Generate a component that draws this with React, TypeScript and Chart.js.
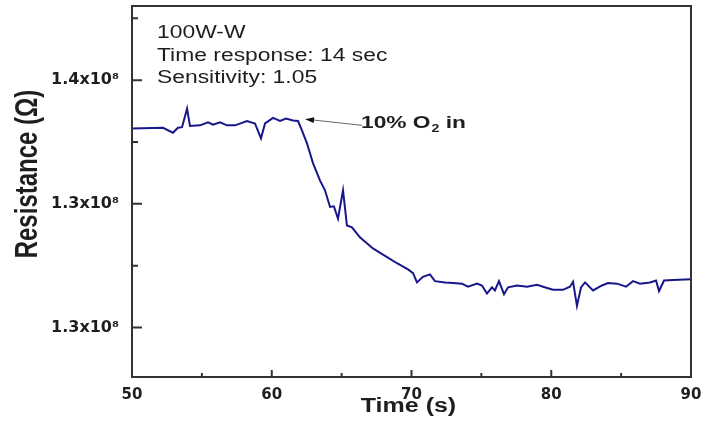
import React, { useEffect, useRef } from "react";
import { Chart, registerables } from "chart.js";

Chart.register(...registerables);

// Time (s)
const times = [50, 52.22, 52.93, 53.29, 53.58, 53.94, 54.15, 54.87, 55.44, 55.8, 56.3, 56.8, 57.37, 58.23, 58.8, 59.23, 59.52, 60.09, 60.59, 61.02, 61.52, 61.88, 62.16, 62.52, 62.95, 63.45, 63.81, 64.17, 64.45, 64.74, 65.1, 65.38, 65.74, 66.31, 67.24, 68.25, 68.96, 69.75, 70.11, 70.39, 70.82, 71.32, 71.68, 72.4, 72.97, 73.61, 74.04, 74.69, 75.04, 75.4, 75.76, 75.97, 76.26, 76.62, 76.91, 77.55, 78.27, 78.98, 79.7, 80.13, 80.84, 81.34, 81.56, 81.84, 82.13, 82.42, 82.99, 83.63, 84.06, 84.71, 85.35, 85.85, 86.35, 87.07, 87.5, 87.71, 88.07, 88.71, 90];
// Resistance (x10^8 ohm)
const resistance = [1.3522, 1.3523, 1.3515, 1.3523, 1.3524, 1.3554, 1.3526, 1.3527, 1.3532, 1.3528, 1.3532, 1.3527, 1.3527, 1.3534, 1.353, 1.3506, 1.353, 1.3539, 1.3534, 1.3538, 1.3535, 1.3534, 1.3519, 1.3498, 1.3466, 1.3438, 1.3422, 1.3395, 1.3396, 1.3376, 1.3422, 1.3365, 1.3362, 1.3346, 1.3328, 1.3314, 1.3304, 1.3294, 1.3288, 1.3273, 1.3282, 1.3286, 1.3275, 1.3273, 1.3272, 1.3271, 1.3266, 1.3271, 1.3268, 1.3255, 1.3265, 1.326, 1.3275, 1.3254, 1.3265, 1.3268, 1.3266, 1.3269, 1.3264, 1.3261, 1.3261, 1.3266, 1.3274, 1.3235, 1.3265, 1.3273, 1.326, 1.3268, 1.3272, 1.3271, 1.3266, 1.3275, 1.3271, 1.3273, 1.3276, 1.3259, 1.3276, 1.3277, 1.3278];

const xMajorTicks = [50, 60, 70, 80, 90];
const xMinorTicks = [55, 65, 75, 85];
const yMajorTicks = [1.32, 1.34, 1.36];
const yMinorTicks = [1.33, 1.35, 1.37];
const yTickLabels = ["1.3x10\u2078", "1.3x10\u2078", "1.4x10\u2078"];
const xRange = [50, 90];
const yRange = [1.312, 1.372];

const infoLines = ["100W-W", "Time response: 14 sec", "Sensitivity: 1.05"];
const arrowTip = { x: 62.38, y: 1.3537 };
const arrowTail = { x: 66.46, y: 1.3527 };
const xTitle = "Time (s)";
const yTitle = "Resistance (\u03A9)";

const LINE_COLOR = "#17178a";
const AXIS_COLOR = "#333333";
const TEXT_COLOR = "#1e1e1e";

function stretchedText(ctx: CanvasRenderingContext2D, text: string, x: number, y: number, sx: number, align: CanvasTextAlign) {
  ctx.save();
  ctx.translate(x, y);
  ctx.scale(sx, 1);
  ctx.textAlign = align;
  ctx.fillText(text, 0, 0);
  ctx.restore();
}

const decorPlugin = {
  id: "decor",
  afterDraw(chart: any) {
    const ctx: CanvasRenderingContext2D = chart.ctx;
    const { left, right, top, bottom } = chart.chartArea;
    const xs = chart.scales.x;
    const ys = chart.scales.y;
    ctx.save();
    // frame
    ctx.strokeStyle = AXIS_COLOR;
    ctx.lineWidth = 2;
    ctx.strokeRect(left, top, right - left, bottom - top);
    // inward ticks
    ctx.beginPath();
    xMajorTicks.forEach((v) => {
      const px = xs.getPixelForValue(v);
      ctx.moveTo(px, bottom);
      ctx.lineTo(px, bottom - 7);
    });
    xMinorTicks.forEach((v) => {
      const px = xs.getPixelForValue(v);
      ctx.moveTo(px, bottom);
      ctx.lineTo(px, bottom - 4);
    });
    yMajorTicks.forEach((v) => {
      const py = ys.getPixelForValue(v);
      ctx.moveTo(left, py);
      ctx.lineTo(left + 10, py);
    });
    yMinorTicks.forEach((v) => {
      const py = ys.getPixelForValue(v);
      ctx.moveTo(left, py);
      ctx.lineTo(left + 6, py);
    });
    ctx.stroke();

    // info text
    ctx.fillStyle = TEXT_COLOR;
    ctx.font = "18px 'Liberation Sans', Arial, sans-serif";
    ctx.textBaseline = "alphabetic";
    infoLines.forEach((t, i) => {
      stretchedText(ctx, t, left + 25, top + 32 + i * 22.5, 1.27, "left");
    });

    // arrow annotation
    const tipX = xs.getPixelForValue(arrowTip.x);
    const tipY = ys.getPixelForValue(arrowTip.y);
    const tailX = xs.getPixelForValue(arrowTail.x);
    const tailY = ys.getPixelForValue(arrowTail.y);
    ctx.strokeStyle = "#666666";
    ctx.lineWidth = 1;
    ctx.beginPath();
    ctx.moveTo(tailX, tailY);
    ctx.lineTo(tipX + 6, tipY + 0.6);
    ctx.stroke();
    const ang = Math.atan2(tipY - tailY, tipX - tailX);
    ctx.fillStyle = "#111111";
    ctx.beginPath();
    ctx.moveTo(tipX, tipY);
    ctx.lineTo(tipX - 9 * Math.cos(ang) + 3 * Math.sin(ang), tipY - 9 * Math.sin(ang) - 3 * Math.cos(ang));
    ctx.lineTo(tipX - 9 * Math.cos(ang) - 3 * Math.sin(ang), tipY - 9 * Math.sin(ang) + 3 * Math.cos(ang));
    ctx.closePath();
    ctx.fill();

    // "10% O2 in"
    ctx.fillStyle = TEXT_COLOR;
    const sx = 1.42;
    let cx = tailX - 1;
    const base = tailY + 3;
    ctx.font = "bold 16px 'Liberation Sans', Arial, sans-serif";
    stretchedText(ctx, "10% O", cx, base, sx, "left");
    cx += ctx.measureText("10% O").width * sx + 1;
    ctx.font = "bold 10px 'Liberation Sans', Arial, sans-serif";
    stretchedText(ctx, "2", cx, base + 4, sx, "left");
    cx += ctx.measureText("2").width * sx;
    ctx.font = "bold 16px 'Liberation Sans', Arial, sans-serif";
    stretchedText(ctx, " in", cx, base, sx, "left");

    // axis titles
    ctx.font = "bold 20px 'Liberation Sans', Arial, sans-serif";
    stretchedText(ctx, xTitle, (left + right) / 2 - 3, 412, 1.25, "center");

    ctx.save();
    ctx.font = "bold 24px 'Liberation Sans', Arial, sans-serif";
    ctx.translate(37, 174);
    ctx.scale(1.27, 1);
    ctx.rotate(-Math.PI / 2);
    ctx.textAlign = "center";
    ctx.textBaseline = "alphabetic";
    ctx.fillText(yTitle, 0, 0);
    ctx.restore();

    ctx.restore();
  },
};

export default function App() {
  const canvasRef = useRef<HTMLCanvasElement | null>(null);

  useEffect(() => {
    document.body.style.margin = "0";
    const canvas = canvasRef.current;
    if (!canvas) return;
    const chart = new Chart(canvas, {
      type: "line",
      data: {
        datasets: [
          {
            data: times.map((t, i) => ({ x: t, y: resistance[i] })),
            borderColor: LINE_COLOR,
            borderWidth: 2,
            pointRadius: 0,
            tension: 0,
            fill: false,
          },
        ],
      },
      options: {
        animation: false,
        responsive: false,
        devicePixelRatio: 1,
        layout: { padding: { top: 6, right: 15, left: 0, bottom: 0 } },
        plugins: { legend: { display: false }, tooltip: { enabled: false } },
        scales: {
          x: {
            type: "linear",
            min: xRange[0],
            max: xRange[1],
            grid: { display: false, drawTicks: false },
            border: { display: false },
            afterBuildTicks: (scale: any) => {
              scale.ticks = xMajorTicks.map((v) => ({ value: v }));
            },
            afterFit: (scale: any) => {
              scale.height = 53;
              scale.paddingLeft = 0;
              scale.paddingRight = 0;
            },
            ticks: {
              padding: 9,
              color: TEXT_COLOR,
              maxRotation: 0,
              font: { family: "'DejaVu Sans'", size: 15, weight: "bold" },
              callback: (v: any) => String(v),
            },
          },
          y: {
            type: "linear",
            min: yRange[0],
            max: yRange[1],
            grid: { display: false, drawTicks: false },
            border: { display: false },
            afterBuildTicks: (scale: any) => {
              scale.ticks = yMajorTicks.map((v) => ({ value: v }));
            },
            afterFit: (scale: any) => {
              scale.width = 132;
              scale.paddingTop = 0;
              scale.paddingBottom = 0;
            },
            ticks: {
              padding: 13,
              color: TEXT_COLOR,
              font: { family: "'DejaVu Sans'", size: 16, weight: "bold" },
              callback: (_v: any, i: number) => yTickLabels[i],
            },
          },
        },
      },
      plugins: [decorPlugin],
    } as any);
    return () => chart.destroy();
  }, []);

  return (
    <div style={{ width: 706, height: 430, background: "#fff" }}>
      <canvas ref={canvasRef} width={706} height={430} />
    </div>
  );
}
